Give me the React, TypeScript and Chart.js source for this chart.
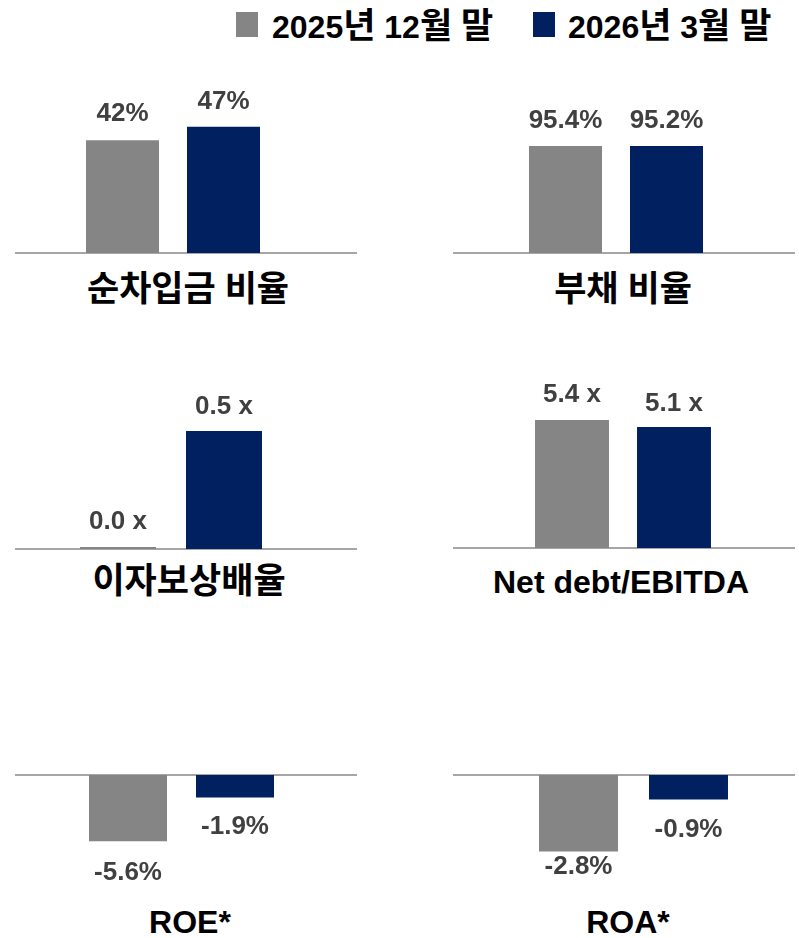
import React, { useEffect, useRef } from 'react';
import { Chart, registerables } from 'chart.js';

Chart.register(...registerables);

// ---------- data ----------
const seriesNames = ['2025년 12월 말', '2026년 3월 말'];
const seriesColors = ['#858585', '#002060'];
const metricNames = ['순차입금 비율', '부채 비율', '이자보상배율', 'Net debt/EBITDA', 'ROE*', 'ROA*'];
const valuesDec2025 = [42, 95.4, 0.0, 5.4, -5.6, -2.8];
const valuesMar2026 = [47, 95.2, 0.5, 5.1, -1.9, -0.9];
const valueSuffixes = ['%', '%', ' x', ' x', '%', '%'];
const valueDecimals = [0, 1, 1, 1, 1, 1];

// ---------- style / layout ----------
const FONT = '"Liberation Sans", Arial, "Noto Sans CJK KR", sans-serif';
const LABEL_COLOR = '#404040';
const AXIS_COLOR = '#a6a6a6';
const HANGUL_SIZE = 35;

type PanelLayout = {
  left: number;
  top: number;
  width: number;
  height: number;
  padL: number;
  padR: number;
  padB: number;
  yMin: number;
  yMax: number;
  barPct: number;
  gaps: [number, number];
  titleCenterX: number;
  titleTop: number;
};

const panelLayouts: PanelLayout[] = [
  { left: 15, top: 60, width: 342, height: 197, padL: 57, padR: 83, padB: 4, yMin: 0, yMax: 71.9, barPct: 0.723, gaps: [26, 25], titleCenterX: 188, titleTop: 273 },
  { left: 453, top: 60, width: 342, height: 197, padL: 62, padR: 78, padB: 4, yMin: 0, yMax: 171.9, barPct: 0.723, gaps: [25, 25], titleCenterX: 623, titleTop: 273 },
  { left: 15, top: 360, width: 342, height: 193, padL: 50, padR: 80, padB: 4, yMin: 0, yMax: 0.8008, barPct: 0.717, gaps: [25, 24.5], titleCenterX: 189, titleTop: 565 },
  { left: 453, top: 360, width: 342, height: 192, padL: 68, padR: 70, padB: 4, yMin: 0, yMax: 7.93, barPct: 0.725, gaps: [25, 23], titleCenterX: 621, titleTop: 566 },
  { left: 15, top: 750, width: 342, height: 150, padL: 59.5, padR: 68.5, padB: 0, yMin: -10.55, yMax: 2.11, barPct: 0.729, gaps: [31, 29], titleCenterX: 190, titleTop: 906 },
  { left: 453, top: 750, width: 342, height: 150, padL: 70.5, padR: 51.5, padB: 0, yMin: -4.58, yMax: 0.916, barPct: 0.718, gaps: [15, 30], titleCenterX: 628, titleTop: 906 },
];

function mixedText(text: string) {
  const parts = text.split(/([\uAC00-\uD7A3]+)/);
  return parts.map((p, i) =>
    /[\uAC00-\uD7A3]/.test(p) ? (
      <span key={i} style={{ fontSize: HANGUL_SIZE }}>
        {p}
      </span>
    ) : (
      <React.Fragment key={i}>{p}</React.Fragment>
    )
  );
}

const baselinePlugin = {
  id: 'baseline',
  beforeDatasetsDraw(chart: any) {
    const y = chart.scales.y.getPixelForValue(0);
    const ctx = chart.ctx;
    ctx.save();
    ctx.strokeStyle = AXIS_COLOR;
    ctx.lineWidth = 2;
    ctx.beginPath();
    ctx.moveTo(0, y);
    ctx.lineTo(chart.width, y);
    ctx.stroke();
    ctx.restore();
  },
};

const valueLabelPlugin = {
  id: 'valueLabels',
  afterDatasetsDraw(chart: any, _args: any, opts: any) {
    const ctx = chart.ctx;
    ctx.save();
    ctx.font = `bold 26px ${FONT}`;
    ctx.fillStyle = LABEL_COLOR;
    ctx.textAlign = 'center';
    ctx.textBaseline = 'middle';
    chart.data.datasets.forEach((ds: any, di: number) => {
      const meta = chart.getDatasetMeta(di);
      meta.data.forEach((el: any, i: number) => {
        const v = ds.data[i] as number;
        const p = el.getProps(['x', 'y', 'base'], true);
        const top = Math.min(p.y, p.base);
        const bottom = Math.max(p.y, p.base);
        const gap = opts.gaps[di];
        const ly = v >= 0 ? top - gap : bottom + gap;
        ctx.fillText(v.toFixed(opts.decimals) + opts.suffix, p.x, ly);
      });
    });
    ctx.restore();
  },
};

function MetricChart({ index }: { index: number }) {
  const ref = useRef<HTMLCanvasElement | null>(null);
  const lay = panelLayouts[index];
  useEffect(() => {
    if (!ref.current) return;
    const chart = new Chart(ref.current, {
      type: 'bar',
      data: {
        labels: [metricNames[index]],
        datasets: [
          {
            label: seriesNames[0],
            data: [valuesDec2025[index]],
            backgroundColor: seriesColors[0],
            borderWidth: 0,
            minBarLength: 2,
          },
          {
            label: seriesNames[1],
            data: [valuesMar2026[index]],
            backgroundColor: seriesColors[1],
            borderWidth: 0,
            minBarLength: 2,
          },
        ],
      },
      options: {
        responsive: false,
        animation: false,
        devicePixelRatio: 1,
        categoryPercentage: 1,
        barPercentage: lay.barPct,
        layout: { padding: { left: lay.padL, right: lay.padR, top: 0, bottom: lay.padB } },
        scales: {
          x: { display: false },
          y: { display: false, min: lay.yMin, max: lay.yMax },
        },
        plugins: {
          legend: { display: false },
          tooltip: { enabled: false },
          title: { display: false },
          valueLabels: { gaps: lay.gaps, suffix: valueSuffixes[index], decimals: valueDecimals[index] },
        } as any,
      },
      plugins: [baselinePlugin, valueLabelPlugin],
    });
    return () => chart.destroy();
  }, [index]);

  return (
    <>
      <canvas
        ref={ref}
        width={lay.width}
        height={lay.height}
        style={{ position: 'absolute', left: lay.left, top: lay.top, width: lay.width, height: lay.height }}
      />
      <div
        style={{
          position: 'absolute',
          left: lay.titleCenterX - 200,
          top: lay.titleTop,
          width: 400,
          textAlign: 'center',
          font: `bold 32px ${FONT}`,
          lineHeight: '32px',
          color: '#000',
          whiteSpace: 'nowrap',
        }}
      >
        {mixedText(metricNames[index])}
      </div>
    </>
  );
}

const legendLayout = [
  { squareLeft: 236, textLeft: 272 },
  { squareLeft: 533, textLeft: 568 },
];

export default function App() {
  return (
    <div
      style={{
        position: 'absolute',
        left: 0,
        top: 0,
        width: 799,
        height: 938,
        background: '#fff',
        overflow: 'hidden',
      }}
    >
      {seriesNames.map((name, i) => (
        <React.Fragment key={name}>
          <div
            style={{
              position: 'absolute',
              left: legendLayout[i].squareLeft,
              top: 12,
              width: 22,
              height: 25,
              background: seriesColors[i],
            }}
          />
          <div
            style={{
              position: 'absolute',
              left: legendLayout[i].textLeft,
              top: 10,
              font: `bold 32px ${FONT}`,
              lineHeight: '32px',
              color: '#000',
              whiteSpace: 'nowrap',
            }}
          >
            {mixedText(name)}
          </div>
        </React.Fragment>
      ))}
      {metricNames.map((_, i) => (
        <MetricChart key={i} index={i} />
      ))}
    </div>
  );
}
